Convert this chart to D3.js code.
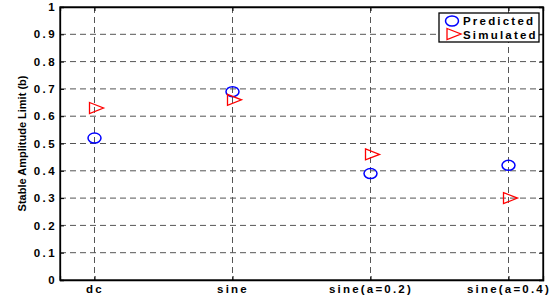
<!DOCTYPE html>
<html>
<head>
<meta charset="utf-8">
<script src="https://cdn.jsdelivr.net/npm/d3@7"></script>
<style>
  body { margin: 0; background: #fff; }
  text { font-family: "Liberation Sans", Arial, sans-serif; font-weight: bold; }
</style>
</head>
<body>
<div id="chart"></div>
<script>
const categories = ["dc", "sine", "sine(a=0.2)", "sine(a=0.4)"];
const predicted = [0.52, 0.69, 0.39, 0.42];
const simulated = [0.63, 0.66, 0.46, 0.30];
const yTicks = [0, 0.1, 0.2, 0.3, 0.4, 0.5, 0.6, 0.7, 0.8, 0.9, 1];

const width = 557, height = 299;
const margin = { top: 7, right: 14, bottom: 19, left: 60 };
const w = width - margin.left - margin.right;
const h = height - margin.top - margin.bottom;

const svg = d3.select("#chart").append("svg")
  .attr("width", width).attr("height", height);
const g = svg.append("g").attr("transform", `translate(${margin.left},${margin.top})`);

const x = d3.scaleLinear().domain([0.75, 4.25]).range([0, w]);
const y = d3.scaleLinear().domain([0, 1]).range([h, 0]);
const xi = categories.map((c, i) => i + 1);

// grid
g.selectAll(".hgrid").data(yTicks.slice(1, -1)).join("line")
  .attr("x1", 0).attr("x2", w)
  .attr("y1", d => y(d)).attr("y2", d => y(d))
  .attr("stroke", "#555").attr("stroke-dasharray", "6,4");
g.selectAll(".vgrid").data(xi).join("line")
  .attr("x1", d => x(d)).attr("x2", d => x(d))
  .attr("y1", 0).attr("y2", h)
  .attr("stroke", "#555").attr("stroke-dasharray", "6,4");

// axes
const yAxis = d3.axisLeft(y).tickValues(yTicks).tickSize(-4).tickPadding(3)
  .tickFormat(d => d === 0 || d === 1 ? d3.format("d")(d) : d3.format(".1f")(d));
const ya = g.append("g").call(yAxis);
ya.selectAll("text").style("font-size", "11.5px").style("letter-spacing", "2.4px");
const yr = g.append("g").attr("transform", `translate(${w},0)`)
  .call(d3.axisRight(y).tickValues(yTicks).tickSize(-4).tickFormat(""));
const xAxis = d3.axisBottom(x).tickValues(xi).tickSize(-4).tickPadding(5)
  .tickFormat((d, i) => categories[i]);
const xa = g.append("g").attr("transform", `translate(0,${h})`).call(xAxis);
xa.selectAll("text").style("font-size", "11.5px").style("letter-spacing", "2.2px");
const xt = g.append("g").call(d3.axisTop(x).tickValues(xi).tickSize(-4).tickFormat(""));
[ya, yr, xa, xt].forEach(a => {
  a.select(".domain").attr("stroke", "#000").attr("stroke-width", 1.3);
  a.selectAll(".tick line").attr("stroke", "#000");
  a.selectAll("text").attr("fill", "#000");
});
g.append("rect").attr("width", w).attr("height", h)
  .attr("fill", "none").attr("stroke", "#000").attr("stroke-width", 1.3);

// y label
svg.append("text")
  .attr("transform", `translate(26,${margin.top + h / 2}) rotate(-90)`)
  .attr("text-anchor", "middle").style("font-size", "11px")
  .text("Stable Amplitude Limit (b)");

// markers
const tri = `M-5,-5.5L9,0L-5,5.5Z`;
g.selectAll(".pred").data(predicted).join("ellipse")
  .attr("cx", (d, i) => x(xi[i])).attr("cy", d => y(d))
  .attr("rx", 6.5).attr("ry", 5)
  .attr("fill", "none").attr("stroke", "#0000ff").attr("stroke-width", 1.5);
g.selectAll(".sim").data(simulated).join("path")
  .attr("transform", (d, i) => `translate(${x(xi[i])},${y(d)})`)
  .attr("d", tri)
  .attr("fill", "none").attr("stroke", "#ff0000").attr("stroke-width", 1.3);

// legend
const lg = svg.append("g").attr("transform", "translate(439,13)");
lg.append("rect").attr("width", 100).attr("height", 29)
  .attr("fill", "#fff").attr("stroke", "#000").attr("stroke-width", 1.3);
lg.append("ellipse").attr("cx", 13).attr("cy", 8).attr("rx", 6.5).attr("ry", 5)
  .attr("fill", "none").attr("stroke", "#0000ff").attr("stroke-width", 1.5);
lg.append("path").attr("transform", "translate(13,21)").attr("d", tri)
  .attr("fill", "none").attr("stroke", "#ff0000").attr("stroke-width", 1.3);
lg.append("text").attr("x", 24).attr("y", 12).style("font-size", "11.5px")
  .style("letter-spacing", "2.2px").text("Predicted");
lg.append("text").attr("x", 24).attr("y", 25.5).style("font-size", "11.5px")
  .style("letter-spacing", "2.2px").text("Simulated");
</script>
</body>
</html>
